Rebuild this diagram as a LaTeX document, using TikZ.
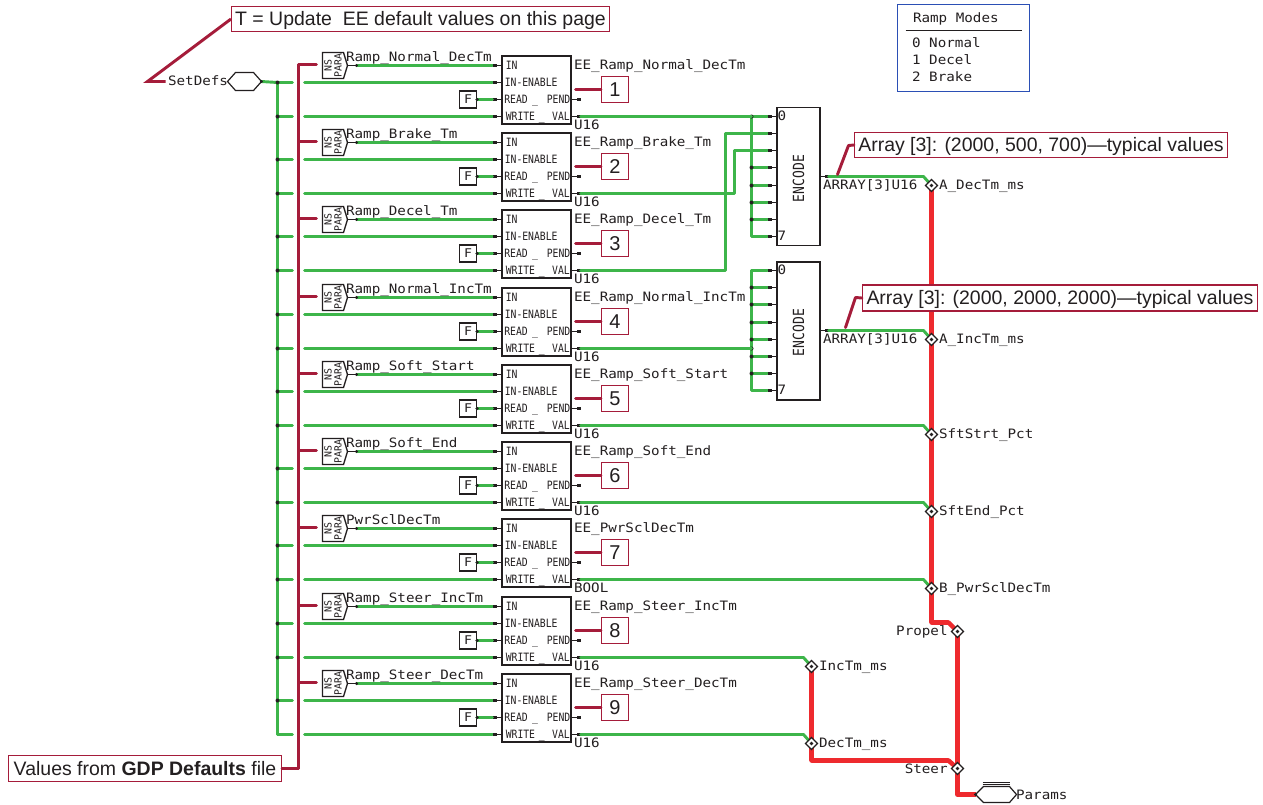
\documentclass[tikz,border=0pt]{standalone}
\usepackage{fontspec}
\setmainfont{Liberation Sans}
\newfontfamily\lblfont[FakeStretch=1.1]{DejaVu Sans Mono}
\newfontfamily\pinfont[FakeStretch=0.85]{DejaVu Sans Mono}
\newfontfamily\parafont{DejaVu Sans Mono}
\definecolor{wgreen}{HTML}{3DB54A}
\definecolor{wred}{HTML}{EE2A2E}
\definecolor{cred}{HTML}{A51C3A}
\definecolor{ink}{HTML}{231F20}
\definecolor{mbox}{HTML}{2B4FB5}
\tikzset{
  x=0.75pt,y=-0.75pt,
  lbl/.style={font=\lblfont\fontsize{9.7pt}{10pt}\selectfont,text=ink,inner sep=0pt,text height=7.4pt,text depth=1.9pt,yshift=-0.5pt,xshift=-0.5pt},
  pinlbl/.style={font=\pinfont\fontsize{8.6pt}{9pt}\selectfont,text=ink,inner sep=0pt,anchor=west,text height=6.5pt,text depth=1.4pt,yshift=-0.4pt},
  blockbox/.style={draw=ink,line width=1.4pt,fill=white,minimum width=51.75pt,minimum height=51pt,inner sep=0pt},
  encbox/.style={draw=ink,line width=1.4pt,fill=white,minimum width=32.25pt,minimum height=103.5pt,inner sep=0pt},
  fbox/.style={draw=ink,line width=0.8pt,fill=white,minimum width=12.75pt,minimum height=12.75pt,inner sep=0pt,font=\lblfont\fontsize{9pt}{10pt}\selectfont,text=ink},
  numbox/.style={draw=cred,line width=0.8pt,fill=white,minimum width=20.25pt,minimum height=19.5pt,inner sep=0pt,font=\fontsize{15pt}{18pt}\selectfont,text=ink},
  callout/.style={draw=cred,line width=0.8pt,fill=white,inner sep=0pt,font=\fontsize{14.6pt}{17pt}\selectfont,text=ink,text height=11.5pt,text depth=1.1pt},
  gw/.style={draw=wgreen,line width=2.2pt,line cap=round,line join=round},
  rw/.style={draw=wred,line width=3.4pt,line join=round},
  cw/.style={draw=cred,line width=2.2pt,line cap=round,line join=round},
  pinw/.style={draw=ink,line width=0.7pt},
  jdot/.style={circle,fill=ink,inner sep=0pt,minimum size=3pt},
  tdiam/.style={draw=ink,line width=0.9pt,fill=white},
  hexw/.style={draw=ink,line width=0.9pt,fill=white},
}
\begin{document}
\begin{tikzpicture}
\useasboundingbox (0,0) rectangle (1263,804);
\fill[white] (0,0) rectangle (1263,804);
\begin{scope}[shift={(0.5,0.5)}]

% named junctions and taps
\coordinate (busT) at (277,82);
\coordinate (busB) at (277,734);
\coordinate (rbT) at (298,64);
\coordinate (rbB) at (298,768);
\coordinate (setOut) at (261,81);

% green bus
\draw[gw] (setOut) -- (busT) -- (busB);

% red (annotation) bus
\draw[cw] (rbT) -- (rbB);

% rows
\foreach \i/\w/\nm/\ty in {1/116/Ramp\_Normal\_DecTm/U16,2/193/Ramp\_Brake\_Tm/U16,3/270/Ramp\_Decel\_Tm/U16,4/348/Ramp\_Normal\_IncTm/U16,5/425/Ramp\_Soft\_Start/U16,6/502/Ramp\_Soft\_End/U16,7/579/PwrSclDecTm/BOOL,8/657/Ramp\_Steer\_IncTm/U16,9/734/Ramp\_Steer\_DecTm/U16}{
  \node[blockbox] (blk\i) at (536,\w-26.5) {};
  \coordinate (in\i) at (502,\w-51);
  \coordinate (en\i) at (502,\w-34);
  \coordinate (rd\i) at (502,\w-17);
  \coordinate (wr\i) at (502,\w);
  \coordinate (inS\i) at (492,\w-51);
  \coordinate (enS\i) at (492,\w-34);
  \coordinate (rdS\i) at (492,\w-17);
  \coordinate (wrS\i) at (492,\w);
  \coordinate (pe\i) at (571,\w-17);
  \coordinate (peE\i) at (580,\w-17);
  \coordinate (va\i) at (571,\w);
  \coordinate (vaE\i) at (580,\w);
  \coordinate (en0\i) at (277,\w-34);
  \coordinate (en1\i) at (292,\w-34);
  \coordinate (en2\i) at (304,\w-34);
  \coordinate (wr0\i) at (277,\w);
  \coordinate (wr1\i) at (292,\w);
  \coordinate (wr2\i) at (304,\w);
  % bus taps, broken round the red bus
  \draw[gw] (en0\i) -- (en1\i);
  \draw[gw] (en2\i) -- (enS\i);
  \draw[gw] (wr0\i) -- (wr1\i);
  \draw[gw] (wr2\i) -- (wrS\i);
  \node[jdot] at (en0\i) {};
  % NS PARA tag
  \coordinate (rbt\i) at (298,\w-52);
  \coordinate (rbs\i) at (316,\w-52);
  \draw[cw] (rbt\i) -- (rbs\i);
  \draw[draw=ink,line width=1pt,fill=white] (322,\w-64) -- (343,\w-64) -- (347,\w-51) -- (343,\w-38) -- (322,\w-38) -- cycle;
  \node[inner sep=0pt,rotate=90,align=center,font=\parafont\fontsize{7.4pt}{7.6pt}\selectfont,text=ink] (tag\i) at (332.5,\w-51) {NS\\PARA};
  \coordinate (tagO\i) at (347,\w-51);
  \coordinate (tagD\i) at (356,\w-51);
  \draw[pinw] (tagO\i) -- (tagD\i);
  \draw[gw] (tagD\i) -- (inS\i);
  \node[jdot,minimum size=2.6pt] at (tagD\i) {};
  \node[lbl,anchor=west] (par\i) at (346,\w-59) {\nm};
  % stubs
  \draw[pinw] (inS\i) -- (in\i);
  \draw[pinw] (enS\i) -- (en\i);
  \draw[pinw] (rdS\i) -- (rd\i);
  \draw[pinw] (wrS\i) -- (wr\i);
  \draw[pinw] (pe\i) -- (peE\i);
  \draw[pinw] (va\i) -- (vaE\i);
  \foreach \p in {inS,enS,rdS,wrS}{\fill[ink] ([xshift=0pt,yshift=-0.9pt]\p\i) rectangle ++(3.4pt,1.8pt);}
  \fill[ink] ([xshift=3.8pt,yshift=-0.9pt]pe\i) rectangle ++(3pt,1.8pt);
  \fill[ink] ([xshift=3.8pt,yshift=-0.9pt]va\i) rectangle ++(3pt,1.8pt);
  % pin names
  \node[pinlbl] (tin\i) at (505,\w-51) {IN};
  \node[pinlbl] (ten\i) at (504,\w-34) {IN-ENABLE};
  \node[pinlbl] (trd\i) at (503.5,\w-17) {\makebox[49.5pt][s]{READ\hfil\_\hfil\hfil PEND}};
  \node[pinlbl] (twr\i) at (505,\w) {\makebox[48pt][s]{WRITE\hfil\_\hfil\hfil VAL}};
  % F constant
  \node[fbox] (f\i) at (467.5,\w-17) {F};
  \draw[gw] (f\i.east) -- (rdS\i);
  \node[jdot,minimum size=2.6pt] at (f\i.east) {};
  % labels
  \node[lbl,anchor=west] (ee\i) at (574,\w-51) {EE\_\nm};
  \node[lbl,anchor=west] (ty\i) at (574,\w+9) {\ty};
  % number callout
  \node[numbox] (n\i) at (614.5,\w-27) {\i};
  \coordinate (nl\i) at (575,\w-27);
  \draw[cw] (nl\i) -- (n\i.west);
}
\foreach \i/\w in {1/116,2/193,3/270,4/348,5/425,6/502,7/579,8/657}{
  \node[jdot] at (277,\w) {};
}

% bottom note
\node[callout,minimum width=204.75pt,minimum height=19.5pt] (vals) at (144.5,768) {Values from \textbf{GDP Defaults} file};
\draw[cw] (vals.east) -- (rbB);

% Encoders
\node[encbox] (enc1) at (798,176) {};
\node[encbox] (enc2) at (798,330.5) {};
\node[inner sep=0pt,rotate=90,font=\pinfont\fontsize{11.5pt}{12pt}\selectfont,text=ink] (enc1t) at (798,178) {ENCODE};
\node[inner sep=0pt,rotate=90,font=\pinfont\fontsize{11.5pt}{12pt}\selectfont,text=ink] (enc2t) at (798,332) {ENCODE};

\foreach \e/\a/\b/\c/\d/\ee/\f/\g/\h in {1/116/133/150/167/185/202/219/236,2/270/287/304/322/339/356/373/390}{
  \foreach \n/\y in {0/\a,1/\b,2/\c,3/\d,4/\ee,5/\f,6/\g,7/\h}{
    \coordinate (e\e p\n) at (777,\y);
    \coordinate (e\e s\n) at (767,\y);
    \coordinate (e\e b\n) at (751,\y);
  }
  \node[lbl,anchor=west] at (777.5,\a) {0};
  \node[lbl,anchor=west] at (777.5,\h) {7};
}
% encoder 1 comb
\draw[gw] (e1s0) -- (e1b0) -- (e1b7) -- (e1s7);
\foreach \n in {3,4,5,6}{\draw[gw] (e1b\n) -- (e1s\n); \node[jdot] at (e1b\n) {};}
\node[jdot] at (e1b0) {};
% encoder 2 comb
\draw[gw] (e2s0) -- (e2b0) -- (e2b7) -- (e2s7);
\foreach \n in {1,2,3,4,5,6}{\draw[gw] (e2b\n) -- (e2s\n); \node[jdot] at (e2b\n) {};}
\coordinate (e2j) at (751,348);
\node[jdot] at (e2j) {};
% write values to the encoders
\draw[gw] (vaE1) -- (e1b0);
\coordinate (r2a) at (734,193); \coordinate (r2b) at (734,150);
\draw[gw] (vaE2) -- (r2a) -- (r2b) -- (e1s2);
\coordinate (r3a) at (725,270); \coordinate (r3b) at (725,133);
\draw[gw] (vaE3) -- (r3a) -- (r3b) -- (e1s1);
\draw[gw] (vaE4) -- (e2j);
\foreach \e in {1,2}{\foreach \n in {0,...,7}{
  \draw[pinw] (e\e s\n) -- (e\e p\n);
  \fill[ink] ([xshift=0pt,yshift=-0.9pt]e\e s\n) rectangle ++(3.6pt,1.8pt);
}}

% tunnel points
\coordinate (tA) at (931,185);
\coordinate (tI) at (931,339);
\coordinate (tS) at (931,434);
\coordinate (tE) at (931,511);
\coordinate (tB) at (931,588);
\coordinate (tP) at (957,631);
\coordinate (tN) at (811,666);
\coordinate (tD) at (811,743);
\coordinate (tT) at (957,768);

% red wires
\coordinate (ra) at (931,622); \coordinate (rb) at (948,622);
\coordinate (rc) at (811,760); \coordinate (rd) at (948,760);
\coordinate (re) at (957,794); \coordinate (pa) at (975,794);
\draw[rw] (tA) -- (ra) -- (rb) -- (tP);
\draw[rw] (tP) -- (re) -- (pa);
\draw[rw] (tN) -- (rc) -- (rd) -- (tT);

% green to tunnels
\coordinate (o1a) at (820,176); \coordinate (o1b) at (828,176); \coordinate (o1c) at (923,176);
\coordinate (o2a) at (820,330); \coordinate (o2b) at (828,330); \coordinate (o2c) at (923,330);
\draw[pinw] (o1a) -- (o1b); \fill[ink] ([xshift=3.4pt,yshift=-0.9pt]o1a) rectangle ++(3pt,1.8pt);
\draw[pinw] (o2a) -- (o2b); \fill[ink] ([xshift=3.4pt,yshift=-0.9pt]o2a) rectangle ++(3pt,1.8pt);
\draw[gw] (o1b) -- (o1c) -- (tA);
\draw[gw] (o2b) -- (o2c) -- (tI);
\coordinate (g5) at (923,425); \coordinate (g6) at (923,502); \coordinate (g7) at (923,579);
\coordinate (g8) at (803,657); \coordinate (g9) at (803,734);
\draw[gw] (vaE5) -- (g5) -- (tS);
\draw[gw] (vaE6) -- (g6) -- (tE);
\draw[gw] (vaE7) -- (g7) -- (tB);
\draw[gw] (vaE8) -- (g8) -- (tN);
\draw[gw] (vaE9) -- (g9) -- (tD);

% diamonds and their names
\foreach \t in {tA,tI,tS,tE,tB,tP,tN,tD,tT}{
  \draw[tdiam] ([yshift=4.5pt]\t) -- ([xshift=4.5pt]\t) -- ([yshift=-4.5pt]\t) -- ([xshift=-4.5pt]\t) -- cycle;
  \node[jdot,minimum size=2.8pt] at (\t) {};
}
\node[lbl,anchor=west] (lA) at (939,185) {A\_DecTm\_ms};
\node[lbl,anchor=west] (lI) at (939,339) {A\_IncTm\_ms};
\node[lbl,anchor=west] (lS) at (939,434) {SftStrt\_Pct};
\node[lbl,anchor=west] (lE) at (939,511) {SftEnd\_Pct};
\node[lbl,anchor=west] (lB) at (939,588) {B\_PwrSclDecTm};
\node[lbl,anchor=east] (lP) at (948,631) {Propel};
\node[lbl,anchor=east] (lT) at (948,769) {Steer};
\node[lbl,anchor=west] (lN) at (819,666) {IncTm\_ms};
\node[lbl,anchor=west] (lD) at (819,743) {DecTm\_ms};
\node[lbl,anchor=west] (ar1) at (823,185) {ARRAY[3]U16};
\node[lbl,anchor=west] (ar2) at (823,339) {ARRAY[3]U16};

% callouts
\node[callout,minimum width=279.75pt,minimum height=19pt] (ca1) at (1040.5,144.5) {Array [3]: (2000, 500, 700)—typical values};
\node[callout,minimum width=296.25pt,minimum height=19.5pt] (ca2) at (1059.5,297.5) {Array [3]: (2000, 2000, 2000)—typical values};
\coordinate (ca1k) at (848,145); \coordinate (ca1e) at (837,174);
\coordinate (ca2k) at (855,297); \coordinate (ca2e) at (845,327);
\draw[cw] (ca1.west) -- (ca1k) -- (ca1e);
\draw[cw] (ca2.west) -- (ca2k) -- (ca2e);

% top note and SetDefs
\node[callout,minimum width=283.5pt,minimum height=19pt] (top) at (420,18.5) {T = Update\ \ EE default values on this page};
\coordinate (topa) at (147,81); \coordinate (topb) at (165,81);
\draw[draw=cred,line width=2.2pt,line join=miter] (top.west) -- (topa) -- (topb);
\node[lbl,anchor=west] (sd) at (168,81) {SetDefs};
\draw[hexw] (227,81) -- (235,72) -- (253,72) -- (261,81) -- (253,90) -- (235,90) -- cycle;
\node[jdot,minimum size=2.6pt] at (setOut) {};

% Params hex
\draw[hexw] (975,794) -- (983,786) -- (1009,786) -- (1016,794) -- (1009,802) -- (983,802) -- cycle;
\draw[draw=ink,line width=0.7pt] (982,784) -- (1009,784);
\draw[draw=ink,line width=0.7pt] (982,781.5) -- (1009,781.5);
\node[jdot,minimum size=2.6pt] at (pa) {};
\node[lbl,anchor=west] (lp) at (1016,795) {Params};

% legend
\draw[draw=mbox,line width=0.8pt] (897,4) rectangle (1029,91);
\node[lbl,anchor=center] (lg0) at (956,18) {Ramp Modes};
\draw[draw=ink,line width=0.7pt] (905,30) -- (1021,30);
\node[lbl,anchor=west] (lg1) at (912,43) {0 Normal};
\node[lbl,anchor=west] (lg2) at (912,60) {1 Decel};
\node[lbl,anchor=west] (lg3) at (912,77) {2 Brake};
\end{scope}
\end{tikzpicture}
\end{document}
